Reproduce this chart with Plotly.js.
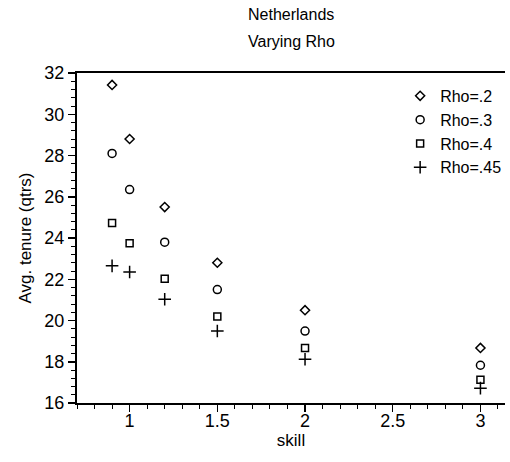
<!DOCTYPE html>
<html><head><meta charset="utf-8">
<script src="https://cdn.plot.ly/plotly-3.0.1.min.js"></script>
<style>body{margin:0;background:#fff}#c{width:510px;height:462px}</style>
</head><body><div id="c"></div>
<script>
const skill = [0.9, 1, 1.2, 1.5, 2, 3];
const rho20 = [31.42, 28.8, 25.5, 22.8, 20.5, 18.67];
const rho30 = [28.1, 26.35, 23.8, 21.5, 19.49, 17.83];
const rho40 = [24.73, 23.75, 22.03, 20.2, 18.67, 17.13];
const rho45 = [22.65, 22.35, 21.03, 19.49, 18.12, 16.72];
const names = ["Rho=.2", "Rho=.3", "Rho=.4", "Rho=.45"];
const xTicks = [1, 1.5, 2, 2.5, 3];
const yTicks = [16, 18, 20, 22, 24, 26, 28, 30, 32];
const titleLines = ["Netherlands", "Varying Rho"];

const font = "Liberation Sans, Arial, sans-serif";
const mk = [
  {symbol: "diamond-open", size: 7},
  {symbol: "circle-open", size: 8},
  {symbol: "square-open", size: 7},
  {symbol: "cross-thin-open", size: 9}
];
const series = [rho20, rho30, rho40, rho45];
const data = series.map((ys, i) => ({
  type: "scatter", mode: "markers", x: skill, y: ys, name: names[i],
  marker: {symbol: mk[i].symbol, size: mk[i].size, color: "#000", line: {color: "#000", width: 1.5}}
}));

const layout = {
  width: 510, height: 462,
  margin: {l: 77, r: 3, t: 73, b: 59},
  paper_bgcolor: "#fff", plot_bgcolor: "#fff",
  font: {family: font, color: "#000"},
  annotations: [
    {text: titleLines[0], xref: "paper", yref: "paper", x: 0.5, y: 1.176, xanchor: "center", yanchor: "middle",
     showarrow: false, font: {family: font, size: 16, color: "#000"}},
    {text: titleLines[1], xref: "paper", yref: "paper", x: 0.5, y: 1.094, xanchor: "center", yanchor: "middle",
     showarrow: false, font: {family: font, size: 16, color: "#000"}}
  ],
  showlegend: true,
  legend: {x: 0.755, y: 0.982, xanchor: "left", yanchor: "top", bgcolor: "rgba(0,0,0,0)",
           font: {family: font, size: 16, color: "#000"}, itemwidth: 30, tracegroupgap: 0},
  xaxis: {
    range: [0.7, 3.14], tickvals: xTicks, ticktext: xTicks.map(String),
    showgrid: false, zeroline: false, showline: true, linecolor: "#000", linewidth: 2, mirror: true,
    ticks: "outside", ticklen: 7, tickwidth: 1.5, tickcolor: "#000",
    minor: {dtick: 0.1, tick0: 0, ticks: "outside", ticklen: 4, tickwidth: 1, tickcolor: "#000", showgrid: false},
    tickfont: {family: font, size: 18, color: "#000"}, ticklabelstandoff: -7,
    title: {text: "skill", font: {family: font, size: 17, color: "#000"}, standoff: 4}
  },
  yaxis: {
    range: [16, 32], tickvals: yTicks, ticktext: yTicks.map(String),
    showgrid: false, zeroline: false, showline: true, linecolor: "#000", linewidth: 2, mirror: false,
    ticks: "outside", ticklen: 7, tickwidth: 1.5, tickcolor: "#000",
    minor: {dtick: 0.4, tick0: 16, ticks: "outside", ticklen: 4, tickwidth: 1, tickcolor: "#000", showgrid: false},
    tickfont: {family: font, size: 18, color: "#000"},
    title: {text: "Avg. tenure (qtrs)", font: {family: font, size: 17, color: "#000"}, standoff: 8}
  }
};
Plotly.newPlot("c", data, layout, {displayModeBar: false, staticPlot: true});
</script></body></html>
